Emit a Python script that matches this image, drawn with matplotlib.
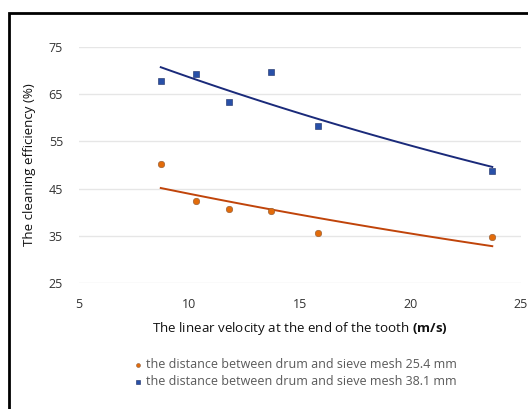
import numpy as np
import matplotlib
matplotlib.use("Agg")
import matplotlib.pyplot as plt
from matplotlib.patches import Rectangle

# Data
velocity = [8.7, 10.3, 11.8, 13.7, 15.8, 23.7]
eff_254 = [50.2, 42.4, 40.6, 40.35, 35.55, 34.64]
eff_381 = [67.75, 69.3, 63.3, 69.8, 58.3, 48.74]
label_254 = "the distance between drum and sieve mesh 25.4 mm"
label_381 = "the distance between drum and sieve mesh 38.1 mm"
x_ticks = [5, 10, 15, 20, 25]
y_ticks = [25, 35, 45, 55, 65, 75]

plt.rcParams['font.family'] = ['Open Sans', 'DejaVu Sans']
plt.rcParams['mathtext.fontset'] = 'custom'
plt.rcParams['mathtext.bf'] = 'Open Sans:bold'

fig = plt.figure(figsize=(5.28, 4.09), dpi=100)
ax = fig.add_axes([79/528, 1-283/409, (521-79)/528, (283-47)/409])

c_or = '#E26B0A'
c_or_line = '#C0440A'
c_bl = '#2850A8'
c_bl_line = '#1A2A7A'

x = np.array(velocity)
xs = np.linspace(x.min(), x.max(), 100)

def expfit(xv, yv):
    b, a = np.polyfit(xv, np.log(yv), 1)
    return np.exp(a + b * xs)

ax.plot(xs, expfit(x, np.array(eff_381)), color=c_bl_line, lw=1.4, zorder=2)
ax.plot(xs, expfit(x, np.array(eff_254)), color=c_or_line, lw=1.4, zorder=2)

ax.scatter(velocity, eff_254, marker='o', s=22, color=c_or, edgecolors='#8a5a3a',
           linewidths=0.4, zorder=3, label=label_254)
ax.scatter(velocity, eff_381, marker='s', s=20, color=c_bl, edgecolors='#1a2a60',
           linewidths=0.4, zorder=3, label=label_381)

ax.set_xlim(5, 25)
ax.set_ylim(25, 75)
ax.set_xticks(x_ticks)
ax.set_yticks(y_ticks)
ax.grid(axis='y', color='#e6e6e6', lw=1)
ax.set_axisbelow(True)
for s in ax.spines.values():
    s.set_visible(False)
ax.tick_params(length=0, labelsize=9, colors='#333333')
ax.tick_params(axis='y', pad=11.5)
ax.tick_params(axis='x', pad=11)

ax.set_xlabel(r"The linear velocity at the end of the tooth $\mathbf{(m/s)}$",
              fontsize=9.6, color='#111111', labelpad=6)
ax.set_ylabel("The cleaning efficiency (%)", fontsize=9.6, color='#111111', labelpad=9)

leg = fig.legend(loc='center', bbox_to_anchor=(295/528, 1-373/409), frameon=False,
                 fontsize=9, handletextpad=0.3, labelspacing=0.35,
                 markerscale=0.6, handlelength=0.8)
for t in leg.get_texts():
    t.set_color('#595959')

fig.patches.append(Rectangle((9/528, -0.1), 1.2, 1.1 - 13/409 + 0.0,
                             transform=fig.transFigure, fill=False,
                             edgecolor='black', lw=2))

fig.savefig('out.png', dpi=100)
